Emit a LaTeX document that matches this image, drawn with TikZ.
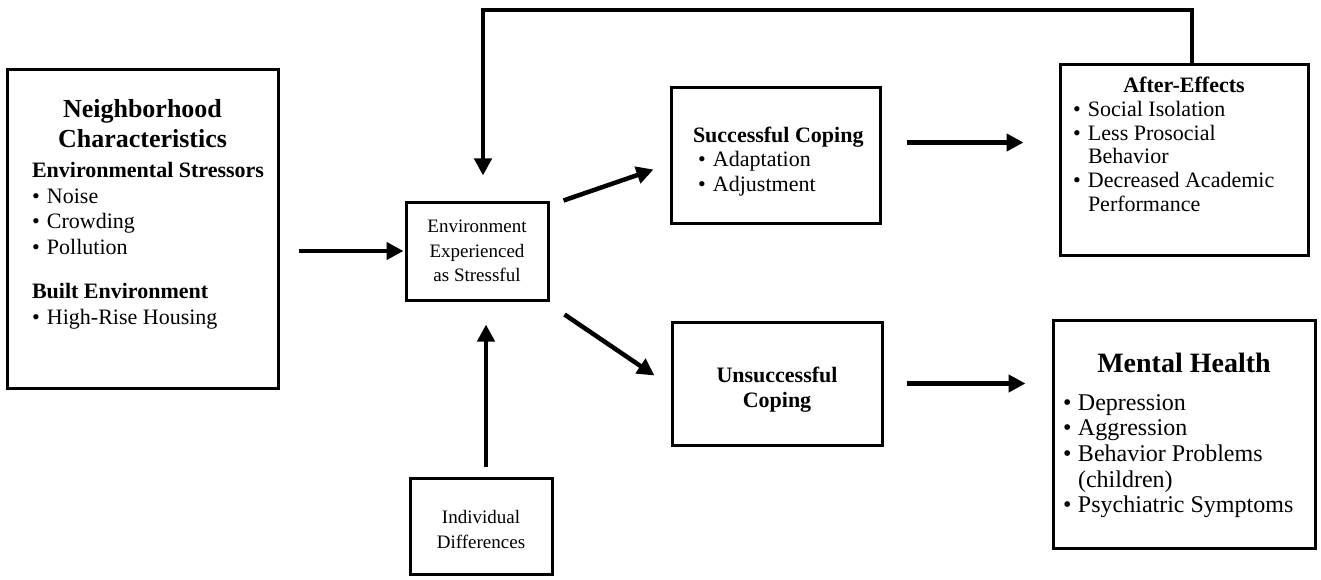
\documentclass[tikz,border=0pt]{standalone}
\usepackage{fontspec}
\setmainfont{Liberation Serif}
\usetikzlibrary{arrows.meta,positioning}
\newcommand{\bpt}{\makebox[15pt][l]{\textbullet}}
\newcommand{\bind}{\hspace*{15pt}}

\begin{document}
\begin{tikzpicture}[x=1pt,y=-1pt]
  \tikzstyle{box}=[rectangle, draw=black, line width=3pt, inner sep=0pt]
  \tikzstyle{smallbox}=[box, align=center, font=\fontsize{19}{24.5}\selectfont]
  \tikzstyle{connect}=[line width=4.5pt, line join=miter, -{Triangle[length=17pt,width=17pt]}]
  \useasboundingbox (0,0) rectangle (1321,580);

  % boxes
  \node[box] (nbhd) at (142.5,229) {\begin{minipage}[c][318pt][t]{271pt}
    \vspace*{29pt}
    {\centering\bfseries\fontsize{26}{30}\selectfont Neighborhood\\Characteristics\par}
    \vspace{5pt}
    \leftskip=25pt\fontsize{22}{25.5}\selectfont
    \textbf{Environmental Stressors}\\
    \bpt Noise\\
    \bpt Crowding\\
    \bpt Pollution\\[19pt]
    \textbf{Built Environment}\\
    \bpt High-Rise Housing
  \end{minipage}};
  \node[smallbox, minimum width=142pt, minimum height=98pt] (env) at (477,251) {Environment\\Experienced\\as Stressful};
  \node[smallbox, minimum width=142pt, minimum height=96pt] (indiv) at (481,526) {\rule{0pt}{20pt}Individual\\Differences};
  \node[box] (succ) at (775.5,155.5) {\begin{minipage}[c][135pt][t]{209pt}
    \vspace*{39pt}
    \leftskip=22pt\fontsize{22}{24.5}\selectfont
    \textbf{Successful Coping}\\
    \hspace*{5pt}\bpt Adaptation\\
    \hspace*{5pt}\bpt Adjustment
  \end{minipage}};
  \node[box] (unsucc) at (777,383.5) {\begin{minipage}[c][123pt][t]{210pt}
    \vspace*{45pt}
    \centering\bfseries\fontsize{22}{25}\selectfont
    Unsuccessful\\Coping
  \end{minipage}};
  \node[box] (after) at (1184,160) {\begin{minipage}[c][190pt][t]{248pt}
    \vspace*{12pt}
    {\centering\bfseries\fontsize{22}{24}\selectfont After-Effects\par}
    \leftskip=13pt\fontsize{22}{23.8}\selectfont
    \bpt Social Isolation\\
    \bpt Less Prosocial\\
    \bind Behavior\\
    \bpt Decreased Academic\\
    \bind Performance
  \end{minipage}};
  \node[box] (mental) at (1184,434) {\begin{minipage}[c][228pt][t]{262pt}
    \vspace*{33pt}
    {\centering\bfseries\fontsize{28}{30}\selectfont Mental Health\par}
    \vspace{12pt}
    \leftskip=10pt\fontsize{24}{25.7}\selectfont
    \bpt Depression\\
    \bpt Aggression\\
    \bpt Behavior Problems\\
    \bind (children)\\
    \bpt Psychiatric Symptoms
  \end{minipage}};

  % connectors
  \coordinate (sa) at ([yshift=13pt]succ.east);
  \coordinate (ia) at ([xshift=5pt]indiv.north);
  \coordinate (fb) at ([xshift=8pt]after.north);
  \coordinate (fbtop) at (483,10);
  \draw[connect, shorten <=19pt, shorten >=1pt] (nbhd.east |- env.west) -- (env.west);
  \draw[connect] ([xshift=14pt]env.north east) -- ([xshift=-16pt,yshift=-14pt]succ.west);
  \draw[connect] ([xshift=15pt,yshift=-13pt]env.south east) -- ([xshift=-16pt,yshift=8pt]unsucc.west);
  \draw[connect, shorten <=25pt, shorten >=35pt] (sa) -- (sa -| after.west);
  \draw[connect, shorten <=23pt, shorten >=26pt] (unsucc.east) -- (unsucc.east -| mental.west);
  \draw[connect, shorten <=10pt, shorten >=23pt] (ia) -- (ia |- env.south);
  \draw[connect, shorten >=25pt] (fb) |- (fbtop) -- (fbtop |- env.north);
\end{tikzpicture}
\end{document}
